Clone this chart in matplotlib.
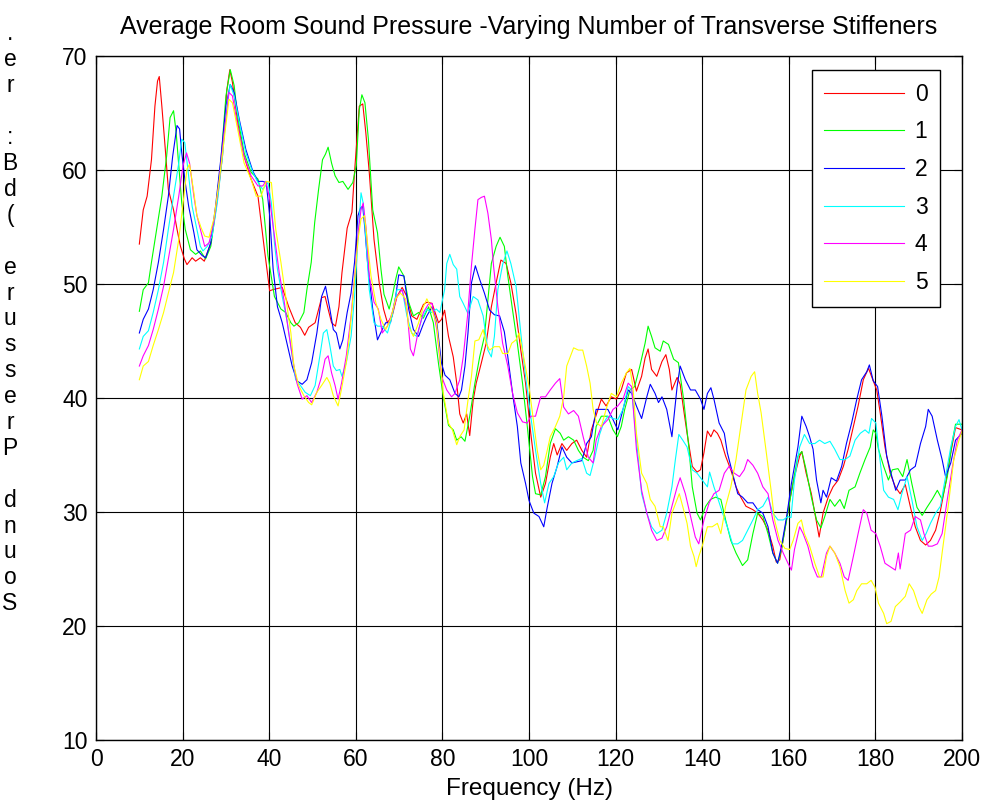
import numpy as np
import matplotlib
matplotlib.use("Agg")
import matplotlib.pyplot as plt

# Room sound pressure curves, one list of (frequency Hz, level dB) pairs per
# number of transverse stiffeners
stiff0 = [(10, 53.5), (10.9, 56.5), (11.8, 57.7), (12.8, 60.9), (13.6, 65.6), (14.2, 67.8), (14.6, 68.2),
          (15.2, 65.6), (16, 61.8), (16.7, 58.3), (17.9, 56.5), (18.7, 54.8), (19.5, 53.3), (20.4, 52.2),
          (21, 51.7), (22.2, 52.3), (23, 52.0), (24.1, 52.3), (25, 52.0), (26.5, 53.6), (28, 57.4),
          (29.2, 61.2), (30.2, 67.0), (30.9, 68.8), (31.5, 67.7), (32.7, 64.2), (34.2, 61.2), (35.8, 59.2),
          (37.4, 57.7), (38.9, 53.0), (40.1, 49.4), (40.8, 49.5), (43, 49.7), (44.5, 48.0), (46, 46.6),
          (47.2, 46.2), (48.2, 45.5), (49.1, 46.2), (50.6, 46.6), (52.1, 48.8), (52.9, 48.9), (53.6, 47.8),
          (54.4, 46.6), (55.3, 46.3), (56.1, 48.0), (56.8, 51.0), (58, 54.9), (59.1, 56.3), (59.7, 59.8),
          (60.8, 65.6), (61.6, 65.8), (62.3, 63.3), (63.1, 59.8), (64.2, 53.9), (65.4, 50.1), (66.4, 47.8),
          (67.3, 46.6), (68.4, 47.2), (69.5, 48.9), (70.7, 49.7), (71.8, 48.9), (72.9, 47.2), (74.1, 46.9),
          (75.6, 48.2), (76.4, 48.4), (77.6, 48.3), (79.1, 46.6), (79.8, 46.9), (80.5, 47.7), (81.4, 45.4),
          (82.5, 43.6), (83.3, 41.3), (84, 38.6), (84.8, 37.8), (85.6, 38.6), (86.3, 36.7), (87.1, 39.8),
          (87.8, 41.3), (89, 43.1), (90.1, 44.8), (91.3, 48.0), (92.4, 50.1), (93.5, 52.1), (94.7, 51.8),
          (95.8, 50.1), (97, 47.4), (98.1, 44.2), (99.2, 41.3), (100.4, 36.9), (101.5, 33.4), (102.7, 31.3),
          (103.8, 32.5), (104.9, 34.8), (105.7, 36.0), (106.5, 35.0), (107.6, 36.0), (108.7, 35.4),
          (109.9, 36.0), (111, 36.3), (112.2, 35.4), (113.3, 34.8), (114.4, 37.2), (115.5, 38.5),
          (116.7, 39.9), (117.8, 39.3), (119, 40.1), (120.2, 39.9), (121.3, 40.7), (122.5, 42.2),
          (123.7, 42.5), (124.8, 40.6), (126, 41.9), (126.8, 43.5), (127.5, 44.3), (128.3, 42.5),
          (129.5, 41.9), (130.7, 43.2), (131.6, 43.8), (132.4, 42.5), (133, 40.7), (134.2, 41.8),
          (134.9, 41.2), (135.7, 39.0), (136.5, 36.9), (137.7, 34.0), (138.8, 33.5), (139.6, 33.7),
          (140.4, 35.2), (141.2, 37.1), (142, 36.6), (142.7, 37.2), (143.5, 36.9), (144.3, 36.3),
          (145.4, 34.9), (146.6, 33.7), (147.8, 32.2), (148.9, 31.3), (150.1, 30.5), (151.7, 30.2),
          (152.8, 29.9), (154, 29.3), (155.2, 28.4), (156.3, 27.0), (157.1, 25.6), (157.9, 25.8),
          (159.1, 28.5), (160.2, 31.0), (161.3, 33.1), (162.5, 34.9), (163, 35.3), (164, 33.4),
          (165.2, 31.6), (166, 29.9), (167, 27.8), (167.9, 29.9), (169.1, 31.3), (170.2, 32.2),
          (171.4, 32.8), (172.6, 34.0), (173.7, 35.5), (174.9, 37.5), (176, 39.3), (177.2, 41.6),
          (178.4, 42.6), (179.1, 41.9), (180.3, 40.7), (181.1, 38.7), (182.2, 35.7), (183.4, 33.4),
          (184.6, 32.2), (185.7, 31.6), (186.9, 32.4), (188.1, 30.4), (189.2, 28.7), (190.4, 27.5),
          (191.6, 27.1), (192.7, 27.5), (193.9, 28.4), (195, 30.1), (196.2, 32.5), (197.4, 35.2),
          (198.5, 37.4), (200, 37.2)]

stiff1 = [(10, 47.6), (10.9, 49.5), (12.1, 50.1), (12.8, 51.9), (14, 54.8), (15.2, 57.7), (16.3, 61.2),
          (17.1, 64.6), (17.9, 65.2), (18.5, 63.3), (19.1, 60.4), (19.8, 57.1), (20.6, 54.8), (21.8, 53.0),
          (23, 52.6), (24.1, 52.9), (25.3, 52.2), (26.5, 53.3), (27.6, 56.3), (28.8, 60.6), (30, 66.5),
          (31, 68.8), (31.9, 67.4), (32.7, 64.7), (34.2, 61.5), (35.8, 59.8), (37.4, 59.2), (38.5, 57.4),
          (39.7, 52.5), (41.2, 48.9), (42.7, 47.8), (43.8, 47.5), (45, 46.6), (45.7, 46.3), (46.8, 46.6),
          (48, 47.5), (48.7, 49.5), (49.7, 51.9), (50.5, 55.4), (51.4, 58.3), (52.3, 60.9), (53, 61.4),
          (53.6, 62.0), (54.4, 60.6), (55.2, 59.5), (56.1, 58.9), (57, 59.0), (58.2, 58.3), (59.3, 58.9),
          (60.1, 60.4), (60.8, 65.3), (61.4, 66.6), (62.1, 65.9), (62.9, 62.7), (63.9, 56.5), (65, 54.5),
          (65.8, 51.3), (66.5, 49.1), (67.7, 47.8), (68.4, 48.9), (69.2, 50.4), (69.9, 51.5), (71.1, 50.7),
          (72.2, 48.4), (73.3, 47.2), (74.5, 47.5), (75.6, 47.0), (76.8, 48.0), (77.9, 46.6), (79.1, 43.0),
          (80.2, 40.1), (81.4, 37.6), (82.5, 37.2), (83.3, 36.3), (84.3, 36.6), (85.2, 36.2), (86.3, 38.4),
          (87.5, 41.3), (88.6, 43.6), (89.7, 45.4), (90.5, 48.6), (91.3, 51.8), (92.4, 53.3), (93.3, 54.1),
          (94.3, 53.3), (95.1, 50.7), (96.2, 47.7), (97.3, 44.8), (98.5, 41.3), (99.6, 37.5), (100.8, 33.1),
          (101.5, 31.6), (102.7, 31.5), (103.8, 33.1), (104.9, 36.0), (106.1, 37.3), (107.2, 36.9),
          (108, 36.3), (109.1, 36.6), (110.3, 36.3), (111.4, 35.4), (112.5, 34.8), (113.7, 34.5),
          (114.8, 35.4), (115.5, 37.5), (116.7, 38.4), (118.2, 38.4), (119.4, 37.2), (120.4, 36.6),
          (121.3, 37.5), (122.1, 39.0), (123.3, 40.7), (124.4, 41.0), (125.6, 42.8), (126.8, 44.8),
          (127.5, 46.3), (128.3, 45.4), (129.1, 44.4), (130.3, 44.1), (131, 45.0), (132.2, 44.7),
          (133.4, 43.4), (134.5, 43.1), (135.7, 39.9), (136.9, 35.7), (137.7, 32.2), (138.8, 29.9),
          (139.6, 29.3), (140.8, 30.5), (141.9, 31.1), (143.1, 31.3), (144.3, 31.1), (145.4, 29.3),
          (146.6, 27.5), (147.8, 26.4), (149.3, 25.3), (150.5, 25.8), (151.7, 28.1), (152.8, 29.9),
          (154, 29.6), (155.2, 28.1), (156.3, 26.4), (157.4, 25.5), (158.3, 26.7), (159.5, 29.3),
          (160.6, 31.8), (162.1, 34.9), (163, 35.3), (164, 33.7), (165.2, 31.3), (166.4, 29.3),
          (167.4, 28.6), (168.3, 29.6), (169.5, 31.1), (170.6, 30.5), (171.8, 31.1), (172.8, 30.3),
          (173.9, 31.9), (175.3, 32.2), (176.4, 33.4), (177.6, 34.6), (178.8, 35.7), (179.5, 37.2),
          (180.1, 36.9), (180.7, 35.5), (181.9, 34.0), (183, 32.8), (183.9, 33.7), (185.2, 33.8),
          (186.3, 33.1), (187.3, 34.6), (188.4, 32.5), (189.6, 30.4), (190.8, 29.7), (191.9, 30.4),
          (193.1, 31.1), (194.3, 31.9), (195.4, 31.1), (196.6, 33.1), (197.8, 36.3), (198.5, 37.7),
          (200, 37.7)]

stiff2 = [(10, 45.7), (10.9, 46.9), (12.1, 47.8), (13.2, 49.5), (14.4, 51.9), (15.6, 54.8), (16.7, 57.7),
          (17.7, 61.2), (18.7, 63.9), (19.3, 63.6), (19.8, 61.5), (20.6, 58.9), (21.4, 56.8), (22.6, 54.5),
          (23.3, 53.0), (24.5, 52.5), (25.3, 52.3), (26.5, 53.6), (27.6, 56.8), (28.8, 60.9), (30, 65.6),
          (31, 67.5), (31.9, 66.8), (33.1, 64.4), (34.6, 61.8), (36.2, 59.9), (37.4, 59.0), (38.5, 59.0),
          (39.3, 58.9), (40.1, 56.0), (40.9, 51.3), (41.9, 48.0), (43, 46.6), (44.2, 44.6), (45.3, 42.8),
          (46.4, 41.5), (47.6, 41.2), (48.7, 41.6), (49.8, 43.1), (51, 45.7), (52.1, 48.9), (53, 49.8),
          (54, 47.8), (54.8, 46.0), (55.5, 45.7), (56.3, 44.3), (57, 45.1), (58, 47.5), (58.9, 49.2),
          (59.7, 51.9), (60.5, 56.0), (61.1, 56.7), (61.6, 56.8), (62.1, 54.8), (62.7, 51.9), (63.9, 47.8),
          (65, 45.1), (66.1, 46.0), (66.9, 46.6), (68, 46.6), (69.2, 48.9), (69.9, 50.8), (71.1, 50.7),
          (72.2, 47.8), (73.3, 46.0), (74.5, 45.4), (75.6, 46.5), (76.4, 47.2), (77.6, 48.0), (78.7, 46.6),
          (79.8, 43.0), (80.6, 42.0), (81.7, 41.6), (82.9, 40.4), (83.8, 40.1), (84.4, 40.7), (85.2, 42.8),
          (85.9, 45.7), (86.7, 50.1), (87.6, 51.6), (88.6, 50.4), (89.7, 49.2), (90.9, 47.7), (92, 47.3),
          (93.2, 47.2), (94.3, 45.8), (95.1, 43.6), (96.2, 40.4), (97.3, 37.5), (98.1, 34.3), (99.2, 32.5),
          (100, 31.0), (101.1, 29.9), (102.3, 29.6), (103.4, 28.7), (104.2, 30.4), (105.3, 32.5),
          (106.5, 34.0), (107.6, 35.7), (108.7, 34.8), (109.9, 34.3), (111, 34.4), (112.2, 34.5),
          (113.3, 36.0), (114.4, 36.6), (115.5, 39.0), (117, 39.0), (118.2, 39.0), (119.4, 38.1),
          (120.5, 37.2), (121.7, 39.0), (122.9, 40.7), (123.7, 40.4), (124.8, 39.3), (126, 38.2),
          (127.2, 40.1), (128, 41.2), (129.1, 40.4), (129.9, 39.6), (130.7, 40.1), (131.8, 39.0),
          (133, 36.6), (134.2, 41.0), (134.9, 42.8), (136.1, 41.6), (137.3, 40.7), (138.4, 40.7),
          (139.6, 39.9), (140.4, 39.0), (141.2, 40.4), (142, 40.9), (142.7, 39.9), (143.9, 37.8),
          (145.1, 36.9), (145.8, 35.2), (147, 33.4), (148.2, 31.6), (149.3, 31.3), (150.5, 30.8),
          (151.7, 30.8), (152.8, 30.2), (154, 29.9), (155.2, 28.7), (156.3, 26.4), (157.4, 25.5),
          (158.3, 27.0), (159.5, 29.6), (160.6, 32.5), (162.1, 35.7), (163, 38.4), (164, 37.5),
          (164.8, 36.6), (165.6, 35.5), (166.4, 32.8), (167.4, 30.8), (167.9, 31.9), (168.7, 31.3),
          (169.8, 33.0), (171, 32.7), (172.2, 34.0), (173.3, 36.0), (174.5, 37.8), (175.7, 39.9),
          (176.8, 41.6), (178, 42.3), (178.6, 42.9), (179.5, 41.5), (180.5, 41.0), (181.5, 38.4),
          (182.6, 34.9), (183.8, 33.1), (184.7, 31.9), (185.7, 32.8), (186.9, 32.8), (188.1, 33.7),
          (189.2, 34.0), (190.4, 36.0), (191.6, 37.5), (192.2, 39.0), (193.1, 38.4), (194.3, 36.3),
          (195.4, 34.6), (196.2, 33.1), (197.4, 34.3), (198.5, 36.3), (200, 36.9)]

stiff3 = [(10, 44.3), (10.9, 45.4), (12.1, 45.9), (13.2, 47.5), (14.4, 49.5), (15.6, 51.9), (16.7, 54.8),
          (17.9, 57.7), (19.1, 60.6), (19.8, 62.7), (20.5, 62.4), (21.2, 60.1), (22.2, 56.8), (23.3, 54.8),
          (24.1, 53.3), (24.7, 52.9), (25.7, 53.3), (26.8, 54.2), (28, 57.1), (29.2, 61.2), (30.2, 65.6),
          (31, 67.5), (31.9, 66.5), (33.1, 64.2), (34.6, 61.5), (36.2, 59.8), (37.4, 58.9), (38.5, 58.3),
          (39.7, 58.9), (40.5, 57.1), (41.2, 53.6), (41.9, 51.3), (43, 48.9), (44.2, 46.6), (45.3, 43.7),
          (46.1, 41.6), (47.2, 41.1), (48.3, 40.5), (49.5, 40.2), (50.6, 41.1), (51.7, 43.7), (52.5, 45.7),
          (53.3, 46.0), (54, 44.6), (54.8, 42.8), (55.5, 42.4), (56.3, 42.5), (56.8, 41.9), (57.8, 43.1),
          (58.9, 45.4), (59.7, 48.9), (60.5, 53.9), (61.2, 58.0), (61.7, 57.1), (62.4, 53.6), (63.1, 49.5),
          (64.2, 46.6), (65, 46.3), (66.1, 46.3), (67.3, 45.7), (68.4, 47.2), (69.5, 49.5), (70.7, 49.5),
          (71.8, 47.2), (72.9, 45.7), (74.1, 45.4), (75.2, 46.9), (76.4, 47.8), (77.5, 47.5), (78.6, 47.8),
          (79.4, 47.5), (80.5, 49.5), (81, 51.8), (81.7, 52.6), (82.5, 51.7), (83.3, 51.3), (84, 48.9),
          (84.8, 48.3), (85.9, 47.4), (87.1, 48.9), (88.2, 48.6), (89.4, 47.2), (90.5, 44.2), (91.3, 43.6),
          (92, 45.4), (92.8, 49.5), (93.9, 51.7), (94.9, 52.9), (95.8, 51.8), (97, 49.8), (97.7, 47.2),
          (98.5, 44.2), (99.2, 41.9), (100.4, 38.4), (101.5, 35.4), (102.7, 32.5), (103.6, 30.8),
          (104.6, 32.5), (105.7, 33.1), (106.8, 34.3), (108, 34.8), (108.7, 33.7), (109.9, 34.3),
          (111, 34.5), (112.2, 34.7), (113.3, 33.4), (114.1, 33.2), (115.2, 34.8), (116.3, 36.8),
          (117.2, 37.8), (118.2, 38.4), (119.4, 38.2), (120.5, 38.1), (121.7, 39.0), (122.9, 41.0),
          (123.7, 40.7), (124.8, 36.3), (126, 31.6), (127.2, 29.9), (128.3, 28.7), (129.5, 28.1),
          (130.7, 28.4), (131.8, 29.9), (133, 32.2), (133.8, 34.6), (134.6, 36.8), (135.5, 36.3),
          (136.5, 35.7), (137.7, 33.7), (138.8, 33.4), (140, 32.8), (141.2, 32.2), (141.7, 33.5),
          (142.7, 32.2), (143.5, 31.3), (144.7, 29.9), (145.8, 28.7), (147, 27.2), (148.2, 27.2),
          (149.3, 27.5), (150.5, 28.4), (151.7, 29.3), (152.8, 30.2), (154, 30.5), (155.2, 31.3),
          (156.3, 29.9), (157.5, 29.3), (158.7, 29.3), (159.8, 29.6), (160.5, 29.5), (161.3, 32.8),
          (162.5, 35.7), (163.6, 36.8), (164.8, 36.0), (166, 36.0), (167.1, 36.3), (168.3, 36.0),
          (169.5, 36.2), (170.6, 35.5), (171.8, 34.6), (173, 34.6), (174.1, 34.9), (175.3, 36.3),
          (176.5, 36.9), (177.6, 37.2), (178.5, 36.9), (179.1, 38.2), (180.1, 37.8), (180.7, 35.7),
          (181.9, 31.9), (183, 31.3), (184.2, 31.1), (185.2, 30.2), (186.1, 31.6), (187.3, 33.1),
          (188.4, 31.1), (189.6, 28.7), (190.8, 27.5), (191.7, 28.1), (192.7, 29.0), (193.9, 29.9),
          (195, 30.5), (196.2, 33.1), (197.4, 35.7), (198.5, 37.5), (199.3, 38.1), (200, 37.2)]

stiff4 = [(10, 42.8), (10.9, 43.7), (12.1, 44.6), (13.2, 46.0), (14.4, 47.8), (15.6, 49.8), (16.7, 52.2),
          (17.9, 54.8), (19.1, 57.7), (20.1, 60.4), (20.9, 61.5), (21.6, 60.6), (22.6, 57.7), (23.3, 56.0),
          (24.3, 54.5), (25.1, 53.3), (26.1, 53.6), (27.2, 55.4), (28.4, 58.9), (29.6, 63.3), (30.7, 66.8),
          (31.5, 66.5), (32.7, 63.9), (34.2, 61.2), (35.8, 59.5), (37.4, 58.6), (38.5, 58.6), (39.2, 59.0),
          (40, 57.7), (41.1, 54.5), (42.3, 51.0), (43.4, 48.6), (44.5, 45.7), (45.7, 42.8), (46.4, 41.3),
          (47.6, 39.9), (48.7, 40.2), (49.8, 39.6), (51, 40.5), (52.1, 41.9), (52.9, 43.4), (53.6, 43.7),
          (54.4, 42.2), (55.2, 41.1), (55.9, 39.9), (56.7, 41.3), (57.8, 43.7), (58.9, 47.2), (59.8, 51.0),
          (60.6, 54.8), (61.2, 56.5), (61.7, 57.1), (62.4, 54.8), (63.1, 50.7), (64.2, 48.4), (65.2, 47.8),
          (66.1, 45.7), (67.3, 46.3), (68.4, 47.5), (69.5, 48.9), (70.7, 49.5), (71.8, 47.8), (72.6, 44.3),
          (73.3, 43.7), (74.5, 46.0), (75.6, 47.5), (76.7, 48.2), (77.6, 48.3), (78.7, 46.0), (79.8, 41.9),
          (81, 40.7), (82.1, 40.1), (82.9, 40.4), (84, 41.6), (84.8, 43.6), (85.8, 47.2), (86.7, 51.6),
          (87.5, 54.8), (88.2, 57.4), (89, 57.6), (89.7, 57.7), (90.5, 56.2), (91.3, 53.9), (91.8, 51.6),
          (92.8, 48.0), (93.9, 44.8), (95.1, 42.8), (96.2, 40.4), (97.3, 38.7), (98.5, 37.9), (99.6, 37.8),
          (100.4, 38.4), (101.5, 38.4), (102.7, 40.1), (103.8, 40.1), (104.9, 40.7), (106.1, 41.3),
          (107.1, 41.7), (108, 39.2), (109.1, 38.6), (110.3, 38.9), (111.4, 38.4), (112.5, 36.6),
          (113.7, 34.8), (114.8, 34.3), (115.5, 36.3), (116.7, 37.5), (118.2, 38.1), (119.4, 39.0),
          (120.5, 39.3), (121.7, 39.9), (122.9, 41.3), (123.7, 41.0), (124.8, 35.5), (126, 31.9),
          (127.2, 29.9), (128.3, 28.4), (129.5, 27.5), (130.7, 27.7), (131.8, 28.7), (133, 30.5),
          (134.2, 32.2), (134.9, 33.0), (136.1, 31.6), (137.3, 29.6), (138.4, 27.8), (139.2, 27.2),
          (140.4, 29.3), (141.6, 30.8), (142.7, 31.6), (143.9, 31.9), (145.1, 33.4), (146.2, 34.0),
          (147.4, 33.4), (148.6, 33.1), (149.7, 33.7), (150.5, 34.6), (151.7, 34.1), (152.8, 33.4),
          (154, 32.2), (155.2, 31.6), (156.3, 29.3), (157.5, 27.5), (158.7, 26.4), (159.8, 25.5),
          (160.6, 24.9), (161.3, 26.7), (162.5, 28.7), (163.3, 28.1), (164.4, 27.0), (165.6, 25.2),
          (166.6, 24.3), (167.5, 24.3), (168.7, 26.4), (169.5, 27.0), (170.6, 26.4), (171.8, 25.5),
          (172.8, 24.3), (173.7, 24.0), (174.9, 26.1), (176, 28.1), (177.2, 30.2), (178, 29.9),
          (179, 28.4), (180.1, 28.1), (181.1, 27.0), (182.2, 25.5), (183.4, 25.2), (184.6, 24.9),
          (185.3, 26.4), (185.7, 25.0), (186.9, 28.1), (188.1, 28.4), (189.2, 29.6), (190.4, 29.3),
          (191.2, 28.1), (192.2, 27.0), (193.1, 27.0), (194.3, 27.2), (195.4, 28.1), (196.6, 31.1),
          (197.8, 34.0), (198.9, 36.3), (200, 37.2)]

stiff5 = [(10, 41.6), (10.9, 42.8), (12.1, 43.2), (13.2, 44.6), (14.4, 46.0), (15.6, 47.5), (16.7, 49.2),
          (17.9, 51.0), (19.1, 53.9), (20.2, 57.4), (21, 60.1), (21.6, 60.5), (22.6, 58.0), (23.3, 56.0),
          (24.3, 54.9), (25.1, 54.2), (26.1, 54.1), (27.2, 55.7), (28.4, 58.9), (29.6, 62.7), (30.7, 66.2),
          (31.5, 65.9), (32.7, 63.6), (34.2, 60.6), (35.8, 59.2), (37, 57.7), (38.1, 57.7), (39.3, 59.0),
          (40.5, 58.9), (41.5, 54.8), (42.7, 51.9), (43.8, 48.9), (45, 45.7), (45.7, 42.8), (46.8, 41.1),
          (48, 40.2), (49.1, 39.6), (49.8, 39.4), (51, 40.5), (52.1, 41.1), (53.3, 41.8), (54, 41.3),
          (54.8, 40.2), (55.9, 39.3), (56.7, 40.8), (57.8, 43.1), (58.6, 45.7), (59.5, 49.5), (60.5, 53.9),
          (61.2, 55.7), (62, 56.0), (62.7, 53.6), (63.5, 50.7), (64.6, 48.4), (65.8, 46.9), (66.9, 46.0),
          (68, 46.9), (69.2, 48.7), (70.3, 49.2), (71.5, 48.7), (72.2, 46.3), (73.3, 45.4), (74.5, 46.6),
          (75.6, 48.0), (76.4, 48.7), (77.5, 47.8), (78.6, 46.6), (79.4, 43.7), (80.2, 40.4), (81.4, 37.8),
          (82.3, 37.2), (83.3, 35.9), (84, 36.6), (85, 37.2), (85.9, 39.8), (86.7, 41.9), (87.5, 45.0),
          (88.4, 45.1), (89.4, 46.0), (90.1, 44.8), (90.9, 44.2), (92, 44.5), (93.2, 44.5), (93.9, 43.9),
          (95.1, 43.9), (96, 44.8), (97, 45.1), (97.7, 45.7), (98.9, 43.3), (100, 41.0), (101.1, 37.8),
          (101.9, 35.4), (102.7, 33.7), (103.4, 34.1), (104.2, 35.4), (104.9, 36.6), (106.1, 37.5),
          (107.1, 38.4), (108, 40.1), (108.7, 42.8), (109.5, 43.6), (110.3, 44.4), (111.4, 44.2),
          (112.4, 44.2), (113.3, 42.8), (114.1, 41.3), (114.8, 39.0), (115.6, 37.8), (116.7, 37.5),
          (117.8, 39.0), (119, 40.4), (120.2, 40.1), (121.3, 41.3), (122.5, 42.2), (123.3, 42.6),
          (124, 41.0), (124.8, 36.9), (126, 33.4), (127.2, 32.5), (128, 31.1), (129.1, 30.5),
          (130.3, 28.7), (131, 28.7), (132.1, 27.5), (133, 29.9), (134.2, 31.1), (134.7, 31.6),
          (135.7, 30.2), (136.5, 29.0), (137.3, 27.0), (138.1, 26.1), (138.6, 25.2), (139.2, 26.1),
          (140, 27.0), (141.2, 28.7), (142.3, 28.7), (143.5, 29.0), (144.3, 28.1), (145.4, 30.5),
          (146.6, 32.2), (147.8, 34.6), (148.9, 37.5), (150.1, 40.7), (151.3, 41.9), (152.1, 42.3),
          (152.8, 40.4), (153.6, 38.7), (154.8, 35.2), (155.9, 31.9), (156.7, 29.3), (157.9, 27.5),
          (159.1, 26.8), (160.2, 26.7), (161, 27.5), (162.1, 29.0), (162.9, 29.3), (163.6, 28.1),
          (164.8, 27.0), (166, 25.5), (167.1, 24.3), (167.9, 24.3), (168.7, 26.1), (169.5, 27.0),
          (170.6, 26.4), (171.8, 25.2), (173, 23.1), (173.9, 22.0), (174.9, 22.3), (175.7, 23.1),
          (176.8, 23.7), (178, 23.7), (179, 24.0), (179.9, 23.4), (180.7, 22.0), (181.9, 21.1),
          (182.6, 20.2), (183.6, 20.4), (184.6, 21.7), (185.7, 22.1), (186.9, 22.6), (187.8, 23.7),
          (188.8, 23.1), (190, 21.7), (190.8, 21.1), (191.9, 22.3), (192.9, 22.8), (193.9, 23.1),
          (194.7, 24.3), (195.4, 26.4), (196.2, 28.7), (197, 31.1), (198.1, 34.6), (199.3, 36.3),
          (200, 37.1)]

series = [stiff0, stiff1, stiff2, stiff3, stiff4, stiff5]
labels = ["0", "1", "2", "3", "4", "5"]
colors = ["#ff0000", "#00ff00", "#0000ff", "#00ffff", "#ff00ff", "#ffff00"]

title = "Average Room Sound Pressure -Varying Number of Transverse Stiffeners"
xlabel = "Frequency (Hz)"
# the y label came out of the original as a reversed column of single characters
ylabel_chars = [".", "e", "r", " ", ":", "B", "d", "(", " ", "e", "r", "u", "s", "s", "e", "r", "P",
                " ", "d", "n", "u", "o", "S"]
xticks = [0, 20, 40, 60, 80, 100, 120, 140, 160, 180, 200]
yticks = [10, 20, 30, 40, 50, 60, 70]


def main():
    plt.rcParams["font.family"] = ["Liberation Sans", "DejaVu Sans"]

    fig = plt.figure(figsize=(9.87, 8.07), dpi=100)
    ax = fig.add_axes([0.0973, 0.0831, 0.8774, 0.8475])

    for data, lab, col in zip(series, labels, colors):
        arr = np.array(data)
        ax.plot(arr[:, 0], arr[:, 1], color=col, lw=0.8, label=lab)

    ax.set_xlim(0, 200)
    ax.set_ylim(10, 70)
    ax.set_xticks(xticks)
    ax.set_yticks(yticks)
    ax.grid(True, color="black", lw=0.8, ls="-")
    ax.set_axisbelow(True)
    ax.tick_params(direction="in", length=6, top=True, right=True, labelsize=16.5, pad=6)
    for sp in ax.spines.values():
        sp.set_linewidth(1.0)

    ax.set_title(title, fontsize=18, pad=16)
    ax.set_xlabel(xlabel, fontsize=17.5, labelpad=5)

    # stacked single-character y label down the left edge
    top_px, step_px = 34, 25.9
    for i, ch in enumerate(ylabel_chars):
        fig.text(10 / 987, 1 - (top_px + i * step_px) / 807, ch, fontsize=16.5,
                 ha="center", va="center")

    leg = ax.legend(loc="upper right", bbox_to_anchor=(0.9746, 0.9795), borderaxespad=0,
                    fontsize=16.5, handlelength=3.5, handletextpad=0.45, labelspacing=0.64,
                    borderpad=0.55, fancybox=False, framealpha=1)
    leg.get_frame().set_edgecolor("black")
    leg.get_frame().set_linewidth(1.0)

    fig.savefig("out.png", dpi=100)


if __name__ == '__main__':
    main()
